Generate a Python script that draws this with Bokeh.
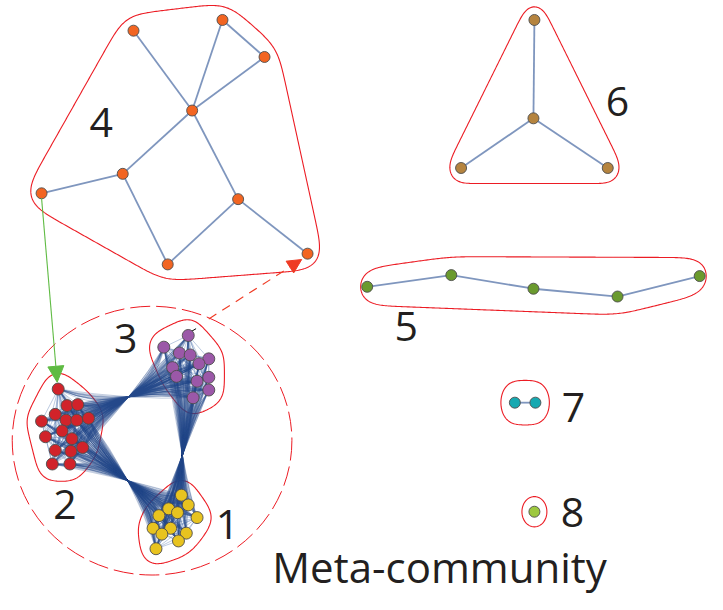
import numpy as np
from bokeh.plotting import figure
from bokeh.models import Range1d, Arrow, NormalHead
from bokeh.core.properties import value
from bokeh.embed import file_html
from bokeh.resources import INLINE

# ---------------- data (image pixel coordinates, y downward) ----------------
c4_x = [136, 227, 270, 196, 125, 42, 243, 171, 314]
c4_y = [31, 20, 58, 113, 178, 198, 204, 271, 260]
c4_edges = [(0, 3), (1, 3), (1, 2), (2, 3), (3, 4), (3, 6), (4, 5), (4, 7), (7, 6), (6, 8)]

c6_x = [546, 545, 471, 621]
c6_y = [20, 121, 172, 172]
c6_edges = [(0, 1), (1, 2), (1, 3)]

c5_x = [375, 461, 545, 631, 715]
c5_y = [294, 282, 296, 304, 283]
c5_edges = [(0, 1), (1, 2), (2, 3), (3, 4)]

c7_x = [526, 547]
c7_y = [413, 413]
c7_edges = [(0, 1)]

c8_x = [546]
c8_y = [525]

c2_x = [59, 68, 79, 56, 42, 67, 78, 90, 63, 46, 73, 84, 56, 72, 53, 71]
c2_y = [399, 416, 415, 425, 432, 431, 431, 429, 442, 448, 450, 459, 462, 463, 476, 476]
c3_x = [192, 167, 183, 194, 213, 203, 176, 180, 213, 201, 213, 197]
c3_y = [344, 356, 362, 364, 368, 373, 377, 386, 387, 391, 400, 408]
c1_x = [185, 192, 172, 181, 162, 201, 174, 156, 190, 165, 182, 159]
c1_y = [508, 518, 522, 526, 529, 531, 542, 542, 547, 548, 555, 563]

# bundle necks between dense communities
neck_23 = (131, 407)
neck_21 = (130, 493)
neck_31 = (186, 467)

labels = ["4", "6", "5", "3", "2", "1", "7", "8"]
label_x = [103, 631, 415, 128, 66, 232, 586, 585]
label_y = [125, 104, 335, 347, 518, 538, 418, 526]
title_text = "Meta-community"
title_x = 278
title_y = 581

meta_circle = dict(x=155, y=452, w=286, h=276)

# ---------------- styles ----------------
RED = "#ec1c24"
EDGE = "#7f96be"
BUNDLE = "#24498a"
INTRA = "#3f66a6"
NODE_LINE = "#4d4d4d"

p = figure(width=707, height=594, x_range=Range1d(0, 723), y_range=Range1d(610, 0),
           output_backend="svg", toolbar_location=None, min_border=0,
           background_fill_color="white", border_fill_color="white")
p.axis.visible = False
p.grid.visible = False
p.outline_line_color = None


def hull(xs, ys, px, py, n=90, smooth=10.0):
    t = np.linspace(0, 2 * np.pi, n, endpoint=False)
    pts = set()
    for x, y in zip(xs, ys):
        for a in t:
            pts.add((round(x + px * np.cos(a), 4), round(y + py * np.sin(a), 4)))
    pts = sorted(pts)

    def cross(o, a, b):
        return (a[0] - o[0]) * (b[1] - o[1]) - (a[1] - o[1]) * (b[0] - o[0])

    lower = []
    for q in pts:
        while len(lower) >= 2 and cross(lower[-2], lower[-1], q) <= 0:
            lower.pop()
        lower.append(q)
    upper = []
    for q in reversed(pts):
        while len(upper) >= 2 and cross(upper[-2], upper[-1], q) <= 0:
            upper.pop()
        upper.append(q)
    h = np.array(lower[:-1] + upper[:-1] + [lower[0]])
    # resample uniformly along the contour and smooth (rounded blob look)
    seg = np.hypot(np.diff(h[:, 0]), np.diff(h[:, 1]))
    s = np.concatenate([[0], np.cumsum(seg)])
    L = s[-1]
    m = int(L / 1.5)
    ss = np.linspace(0, L, m, endpoint=False)
    rx = np.interp(ss, s, h[:, 0])
    ry = np.interp(ss, s, h[:, 1])
    sig = smooth / 1.5
    k = np.arange(-int(4 * sig), int(4 * sig) + 1)
    w = np.exp(-0.5 * (k / sig) ** 2)
    w /= w.sum()
    sx = np.zeros(m)
    sy = np.zeros(m)
    for kk, ww in zip(k, w):
        sx += ww * np.roll(rx, kk)
        sy += ww * np.roll(ry, kk)
    sx = np.append(sx, sx[0])
    sy = np.append(sy, sy[0])
    return sx, sy


# community outlines (x padding, y padding, smoothing)
outlines = [
    (c4_x, c4_y, 15, 17, 14),
    (c6_x, c6_y, 13, 16, 8),
    (c5_x, c5_y, 10, 19, 14),
    (c7_x, c7_y, 15, 23, 7),
    (c8_x, c8_y, 13, 16, 3),
    (c2_x, c2_y, 16, 18, 8),
    (c3_x, c3_y, 16, 18, 8),
    (c1_x, c1_y, 16, 17, 8),
]
for xs, ys, px, py, sm in outlines:
    hx, hy = hull(xs, ys, px, py, smooth=sm)
    p.line(hx, hy, line_color=RED, line_width=1.1)

# dashed meta-community circle
p.ellipse(x=[meta_circle["x"]], y=[meta_circle["y"]], width=[meta_circle["w"]],
          height=[meta_circle["h"]], fill_color=None, line_color=RED,
          line_width=1.0, line_dash="20 6")


def draw_edges(xs, ys, edges, color, width, alpha=1.0):
    p.segment(x0=[xs[a] for a, b in edges], y0=[ys[a] for a, b in edges],
              x1=[xs[b] for a, b in edges], y1=[ys[b] for a, b in edges],
              line_color=color, line_width=width, line_alpha=alpha)


for xs, ys, ed in [(c4_x, c4_y, c4_edges), (c6_x, c6_y, c6_edges),
                   (c5_x, c5_y, c5_edges), (c7_x, c7_y, c7_edges)]:
    draw_edges(xs, ys, ed, EDGE, 1.8)

# dense intra-community edges
for xs, ys in [(c2_x, c2_y), (c3_x, c3_y), (c1_x, c1_y)]:
    n = len(xs)
    ed = [(i, j) for i in range(n) for j in range(i + 1, n)]
    draw_edges(xs, ys, ed, INTRA, 0.7, 0.5)


# bundled inter-community edges
def bundle(ax, ay, bx, by, neck):
    x0, y0, x1, y1, cx, cy = [], [], [], [], [], []
    for xa, ya in zip(ax, ay):
        for xb, yb in zip(bx, by):
            x0.append(xa); y0.append(ya); x1.append(xb); y1.append(yb)
            cx.append(2 * neck[0] - (xa + xb) / 2)
            cy.append(2 * neck[1] - (ya + yb) / 2)
    p.quadratic(x0=x0, y0=y0, x1=x1, y1=y1, cx=cx, cy=cy,
                line_color=BUNDLE, line_width=0.55, line_alpha=0.5)


bundle(c2_x, c2_y, c3_x, c3_y, neck_23)
bundle(c2_x, c2_y, c1_x, c1_y, neck_21)
bundle(c3_x, c3_y, c1_x, c1_y, neck_31)

# small tick on top purple node
p.segment(x0=[c3_x[0] + 3], y0=[c3_y[0] - 4], x1=[c3_x[0] + 8], y1=[c3_y[0] - 7],
          line_color="black", line_width=1)

# nodes
nodes = [
    (c4_x, c4_y, "#f26522", 11),
    (c6_x, c6_y, "#b5843f", 11),
    (c5_x, c5_y, "#6a9a2e", 11),
    (c7_x, c7_y, "#16a9b1", 11),
    (c8_x, c8_y, "#9dc83f", 11),
    (c2_x, c2_y, "#d1232a", 12),
    (c3_x, c3_y, "#9b58a8", 12),
    (c1_x, c1_y, "#e8c31f", 12),
]
for xs, ys, col, sz in nodes:
    p.scatter(xs, ys, size=sz, fill_color=col, line_color=NODE_LINE, line_width=0.9)

# arrows
GREEN = "#5fbb43"
p.add_layout(Arrow(end=NormalHead(size=16, fill_color=GREEN, line_color=GREEN),
                   x_start=c4_x[5], y_start=c4_y[5] + 5, x_end=58, y_end=392,
                   line_color=GREEN, line_width=1.1))
p.add_layout(Arrow(end=NormalHead(size=14, fill_color="#ef3b24", line_color="#ef3b24"),
                   x_start=213, y_start=327, x_end=308, y_end=266,
                   line_color="#ef3b24", line_width=1.1, line_dash="9 7"))

# labels (svg text renders ~0.4em below the requested alphabetic baseline)
p.text(x=label_x, y=label_y, text=labels, text_align="center",
       text_baseline="alphabetic", text_font=value("Open Sans"),
       text_font_size="41px", text_color="#231f20")
p.text(x=[title_x], y=[title_y], text=[title_text], text_align="left",
       text_baseline="alphabetic", text_font=value("Open Sans"),
       text_font_size="42px", text_color="#231f20")

open("out.html", "w").write(file_html(p, INLINE))
